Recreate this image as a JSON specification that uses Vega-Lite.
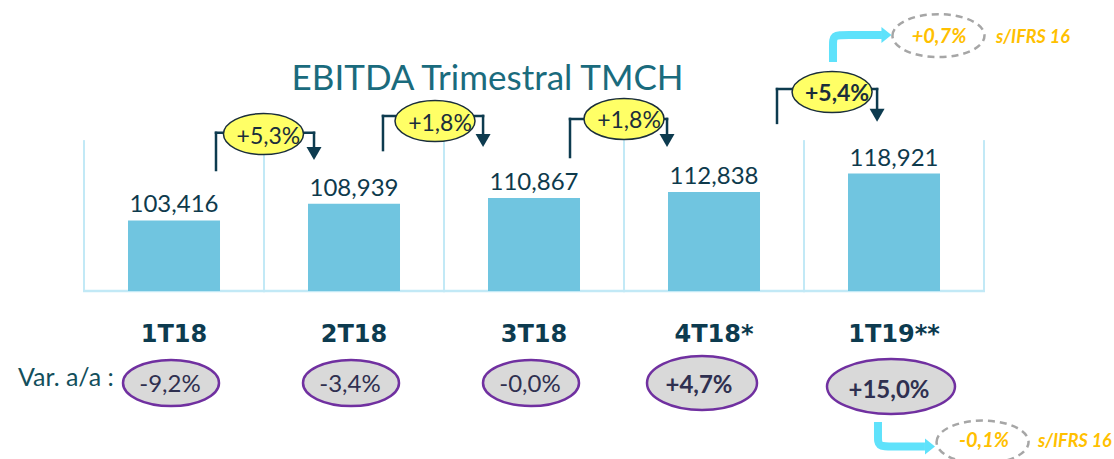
{
  "$schema": "https://vega.github.io/schema/vega-lite/v6.json",
  "width": 1114,
  "height": 459,
  "autosize": {"type": "none"},
  "padding": 0,
  "background": "white",
  "config": {"view": {"stroke": null}, "axis": {"disable": true}, "font": "Lato"},
  "datasets": {
    "quarters": [
      {"q": "1T18", "idx": 0, "ebitda": 103416, "var": "-9,2%"},
      {"q": "2T18", "idx": 1, "ebitda": 108939, "var": "-3,4%"},
      {"q": "3T18", "idx": 2, "ebitda": 110867, "var": "-0,0%"},
      {"q": "4T18*", "idx": 3, "ebitda": 112838, "var": "+4,7%"},
      {"q": "1T19**", "idx": 4, "ebitda": 118921, "var": "+15,0%"}
    ],
    "growth": [
      {"from": "1T18", "to": "2T18", "pct": "+5,3%", "x1": 0.2333, "x2": 0.7778, "top": 132400, "lb": 120100, "tip": 125600, "ex": 0.497, "ey": 132000},
      {"from": "2T18", "to": "3T18", "pct": "+1,8%", "x1": 1.161, "x2": 1.717, "top": 138000, "lb": 126700, "tip": 129900, "ex": 1.45, "ey": 136300},
      {"from": "3T18", "to": "4T18*", "pct": "+1,8%", "x1": 2.2, "x2": 2.739, "top": 137000, "lb": 124400, "tip": 129900, "ex": 2.5, "ey": 137000},
      {"from": "4T18*", "to": "1T19**", "pct": "+5,4%", "x1": 3.35, "x2": 3.906, "top": 146900, "lb": 135700, "tip": 138200, "ex": 3.656, "ey": 145900}
    ],
    "cyan": [
      {"arrow": "top", "o": 1, "x": 3.661, "y": 155868},
      {"arrow": "top", "o": 2, "x": 3.661, "y": 161498},
      {"arrow": "top", "o": 3, "x": 3.661, "y": 164809},
      {"arrow": "top", "o": 4, "x": 3.728, "y": 164809},
      {"arrow": "top", "o": 5, "x": 3.933, "y": 164809},
      {"arrow": "bottom", "o": 1, "x": 3.911, "y": 36650},
      {"arrow": "bottom", "o": 2, "x": 3.911, "y": 31683},
      {"arrow": "bottom", "o": 3, "x": 3.911, "y": 28537},
      {"arrow": "bottom", "o": 4, "x": 3.978, "y": 28537},
      {"arrow": "bottom", "o": 5, "x": 4.172, "y": 28537}
    ],
    "ifrs": [
      {"pct": "+0,7%", "note": "s/IFRS 16", "ax": 3.958, "ay": 164809, "ex": 4.247, "ey": 164600, "tx": 4.25, "ty": 162160, "lx": 4.567},
      {"pct": "-0,1%", "note": "s/IFRS 16", "ax": 4.2, "ay": 28537, "ex": 4.492, "ey": 30000, "tx": 4.5, "ty": 28371, "lx": 4.8}
    ],
    "labels": [
      {"role": "title", "text": "EBITDA Trimestral TMCH"},
      {"role": "row", "text": "Var. a/a :"}
    ]
  },
  "layer": [
    {
      "data": {"name": "quarters"},
      "mark": {"type": "rule", "stroke": "#c2e9f6", "strokeWidth": 2, "xOffset": -90},
      "encoding": {
        "x": {"field": "idx", "type": "quantitative", "scale": {"domain": [-0.9667, 5.2222], "nice": false, "zero": false, "padding": 0}, "axis": null},
        "y": {"datum": 130000, "type": "quantitative", "scale": {"domain": [24400, 176400], "nice": false, "zero": false, "padding": 0}, "axis": null},
        "y2": {"datum": 80000}
      }
    },
    {
      "data": {"name": "quarters"},
      "transform": [{"filter": "datum.idx == 4"}],
      "mark": {"type": "rule", "stroke": "#c2e9f6", "strokeWidth": 2, "xOffset": 90},
      "encoding": {
        "x": {"field": "idx", "type": "quantitative"},
        "y": {"datum": 130000, "type": "quantitative"},
        "y2": {"datum": 80000}
      }
    },
    {
      "data": {"name": "quarters"},
      "mark": {"type": "rule", "stroke": "#c2e9f6", "strokeWidth": 2.5, "xOffset": -91, "x2Offset": 91},
      "encoding": {
        "x": {"field": "idx", "type": "quantitative"},
        "x2": {"field": "idx"},
        "y": {"datum": 80000, "type": "quantitative"}
      }
    },
    {
      "data": {"name": "quarters"},
      "mark": {"type": "bar", "color": "#70c5e0", "width": 92},
      "encoding": {
        "x": {"field": "idx", "type": "quantitative"},
        "y": {"field": "ebitda", "type": "quantitative"},
        "y2": {"datum": 80000}
      }
    },
    {
      "data": {"name": "quarters"},
      "mark": {"type": "text", "font": "Lato", "fontSize": 24, "color": "#0e3a4c", "align": "center", "baseline": "alphabetic", "dy": -8},
      "encoding": {
        "x": {"field": "idx", "type": "quantitative"},
        "y": {"field": "ebitda", "type": "quantitative"},
        "text": {"field": "ebitda", "type": "quantitative", "format": ",d"}
      }
    },
    {
      "data": {"name": "quarters"},
      "mark": {"type": "text", "font": "DejaVu Sans", "fontWeight": "bold", "fontSize": 24, "color": "#0d3b4f", "align": "center", "baseline": "alphabetic"},
      "encoding": {
        "x": {"field": "idx", "type": "quantitative"},
        "y": {"datum": 63145, "type": "quantitative"},
        "text": {"field": "q"}
      }
    },
    {
      "data": {"name": "quarters"},
      "transform": [{"filter": "datum.idx <= 2"}],
      "mark": {"type": "point", "filled": true, "fill": "#d9d9d9", "stroke": "#7030a0", "strokeWidth": 2.5, "opacity": 1, "size": 9216, "xOffset": -3,
        "shape": "M-1,0C-1,-0.2646,-0.5523,-0.479,0,-0.479C0.5523,-0.479,1,-0.2646,1,0C1,0.2646,0.5523,0.479,0,0.479C-0.5523,0.479,-1,0.2646,-1,0Z"},
      "encoding": {
        "x": {"field": "idx", "type": "quantitative"},
        "y": {"datum": 49566, "type": "quantitative"}
      }
    },
    {
      "data": {"name": "quarters"},
      "transform": [{"filter": "datum.idx == 3"}],
      "mark": {"type": "point", "filled": true, "fill": "#d9d9d9", "stroke": "#7030a0", "strokeWidth": 2.5, "opacity": 1, "size": 12100, "xOffset": -12,
        "shape": "M-1,0C-1,-0.2712,-0.5523,-0.491,0,-0.491C0.5523,-0.491,1,-0.2712,1,0C1,0.2712,0.5523,0.491,0,0.491C-0.5523,0.491,-1,0.2712,-1,0Z"},
      "encoding": {
        "x": {"field": "idx", "type": "quantitative"},
        "y": {"datum": 49566, "type": "quantitative"}
      }
    },
    {
      "data": {"name": "quarters"},
      "transform": [{"filter": "datum.idx == 4"}],
      "mark": {"type": "point", "filled": true, "fill": "#d9d9d9", "stroke": "#7030a0", "strokeWidth": 2.5, "opacity": 1, "size": 16384, "xOffset": -3,
        "shape": "M-1,0C-1,-0.2375,-0.5523,-0.43,0,-0.43C0.5523,-0.43,1,-0.2375,1,0C1,0.2375,0.5523,0.43,0,0.43C-0.5523,0.43,-1,0.2375,-1,0Z"},
      "encoding": {
        "x": {"field": "idx", "type": "quantitative"},
        "y": {"datum": 48407, "type": "quantitative"}
      }
    },
    {
      "data": {"name": "quarters"},
      "transform": [{"filter": "datum.idx <= 2"}],
      "mark": {"type": "text", "font": "Lato", "fontSize": 24, "color": "#2f3050", "align": "center", "baseline": "alphabetic", "dx": -4},
      "encoding": {
        "x": {"field": "idx", "type": "quantitative"},
        "y": {"datum": 46585, "type": "quantitative"},
        "text": {"field": "var"}
      }
    },
    {
      "data": {"name": "quarters"},
      "transform": [{"filter": "datum.idx == 3"}],
      "mark": {"type": "text", "font": "Lato", "fontWeight": "bold", "fontSize": 24, "color": "#2f3050", "align": "center", "baseline": "alphabetic", "dx": -15},
      "encoding": {
        "x": {"field": "idx", "type": "quantitative"},
        "y": {"datum": 46254, "type": "quantitative"},
        "text": {"field": "var"}
      }
    },
    {
      "data": {"name": "quarters"},
      "transform": [{"filter": "datum.idx == 4"}],
      "mark": {"type": "text", "font": "Lato", "fontWeight": "bold", "fontSize": 24, "color": "#2f3050", "align": "center", "baseline": "alphabetic", "dx": -5},
      "encoding": {
        "x": {"field": "idx", "type": "quantitative"},
        "y": {"datum": 44598, "type": "quantitative"},
        "text": {"field": "var"}
      }
    },
    {
      "data": {"name": "growth"},
      "mark": {"type": "rule", "stroke": "#0d3b4f", "strokeWidth": 2.5, "strokeCap": "square"},
      "encoding": {
        "x": {"field": "x1", "type": "quantitative"},
        "y": {"field": "top", "type": "quantitative"},
        "y2": {"field": "lb"}
      }
    },
    {
      "data": {"name": "growth"},
      "mark": {"type": "rule", "stroke": "#0d3b4f", "strokeWidth": 2.5, "strokeCap": "square"},
      "encoding": {
        "x": {"field": "x1", "type": "quantitative"},
        "x2": {"field": "x2"},
        "y": {"field": "top", "type": "quantitative"}
      }
    },
    {
      "data": {"name": "growth"},
      "mark": {"type": "rule", "stroke": "#0d3b4f", "strokeWidth": 2.5, "strokeCap": "square"},
      "encoding": {
        "x": {"field": "x2", "type": "quantitative"},
        "y": {"field": "top", "type": "quantitative"},
        "y2": {"field": "tip"}
      }
    },
    {
      "data": {"name": "growth"},
      "mark": {"type": "point", "shape": "triangle-down", "filled": true, "fill": "#0d3b4f", "opacity": 1, "size": 225, "strokeWidth": 0},
      "encoding": {
        "x": {"field": "x2", "type": "quantitative"},
        "y": {"field": "tip", "type": "quantitative"}
      }
    },
    {
      "data": {"name": "growth"},
      "mark": {"type": "point", "filled": true, "fill": "#ffff66", "stroke": "#1a2e3b", "strokeWidth": 1.5, "opacity": 1, "size": 6400,
        "shape": "M-1,0C-1,-0.283,-0.5523,-0.5125,0,-0.5125C0.5523,-0.5125,1,-0.283,1,0C1,0.283,0.5523,0.5125,0,0.5125C-0.5523,0.5125,-1,0.283,-1,0Z"},
      "encoding": {
        "x": {"field": "ex", "type": "quantitative"},
        "y": {"field": "ey", "type": "quantitative"}
      }
    },
    {
      "data": {"name": "growth"},
      "transform": [{"filter": "datum.to != '1T19**'"}],
      "mark": {"type": "text", "font": "Lato", "fontSize": 23, "color": "#1a2e3b", "align": "center", "baseline": "alphabetic", "dx": 5, "dy": 9.5},
      "encoding": {
        "x": {"field": "ex", "type": "quantitative"},
        "y": {"field": "ey", "type": "quantitative"},
        "text": {"field": "pct"}
      }
    },
    {
      "data": {"name": "growth"},
      "transform": [{"filter": "datum.to == '1T19**'"}],
      "mark": {"type": "text", "font": "Lato", "fontWeight": "bold", "fontSize": 23, "color": "#1a2e3b", "align": "center", "baseline": "alphabetic", "dx": 5, "dy": 8.5},
      "encoding": {
        "x": {"field": "ex", "type": "quantitative"},
        "y": {"field": "ey", "type": "quantitative"},
        "text": {"field": "pct"}
      }
    },
    {
      "data": {"name": "cyan"},
      "mark": {"type": "line", "interpolate": "basis", "stroke": "#5fe2fb", "strokeWidth": 8, "strokeCap": "butt"},
      "encoding": {
        "x": {"field": "x", "type": "quantitative"},
        "y": {"field": "y", "type": "quantitative"},
        "detail": {"field": "arrow"},
        "order": {"field": "o", "type": "quantitative"}
      }
    },
    {
      "data": {"name": "ifrs"},
      "mark": {"type": "point", "shape": "M-1,-1.6L1,0L-1,1.6Z", "filled": true, "fill": "#5fe2fb", "opacity": 1, "size": 100, "strokeWidth": 0},
      "encoding": {
        "x": {"field": "ax", "type": "quantitative"},
        "y": {"field": "ay", "type": "quantitative"}
      }
    },
    {
      "data": {"name": "ifrs"},
      "mark": {"type": "point", "filled": false, "stroke": "#a6a6a6", "strokeWidth": 2.5, "strokeDash": [7, 5], "opacity": 1, "size": 8464,
        "shape": "M-1,0C-1,-0.258,-0.5523,-0.467,0,-0.467C0.5523,-0.467,1,-0.258,1,0C1,0.258,0.5523,0.467,0,0.467C-0.5523,0.467,-1,0.258,-1,0Z"},
      "encoding": {
        "x": {"field": "ex", "type": "quantitative"},
        "y": {"field": "ey", "type": "quantitative"}
      }
    },
    {
      "data": {"name": "ifrs"},
      "mark": {"type": "text", "font": "Lato", "fontWeight": "bold", "fontStyle": "italic", "fontSize": 20, "color": "#ffc000", "align": "center", "baseline": "alphabetic"},
      "encoding": {
        "x": {"field": "tx", "type": "quantitative"},
        "y": {"field": "ty", "type": "quantitative"},
        "text": {"field": "pct"}
      }
    },
    {
      "data": {"name": "ifrs"},
      "mark": {"type": "text", "font": "Lato", "fontWeight": "bold", "fontStyle": "italic", "fontSize": 18, "color": "#ffc000", "align": "left", "baseline": "alphabetic"},
      "encoding": {
        "x": {"field": "lx", "type": "quantitative"},
        "y": {"field": "ty", "type": "quantitative"},
        "text": {"field": "note"}
      }
    },
    {
      "data": {"name": "labels"},
      "transform": [{"filter": "datum.role == 'title'"}],
      "mark": {"type": "text", "font": "Lato", "fontSize": 35, "color": "#1a6b7d", "align": "center", "baseline": "alphabetic"},
      "encoding": {
        "x": {"datum": 1.742, "type": "quantitative"},
        "y": {"datum": 146596, "type": "quantitative"},
        "text": {"field": "text"}
      }
    },
    {
      "data": {"name": "labels"},
      "transform": [{"filter": "datum.role == 'row'"}],
      "mark": {"type": "text", "font": "Lato", "fontSize": 25, "color": "#134f5c", "align": "left", "baseline": "alphabetic"},
      "encoding": {
        "x": {"datum": -0.8667, "type": "quantitative"},
        "y": {"datum": 48573, "type": "quantitative"},
        "text": {"field": "text"}
      }
    }
  ]
}
